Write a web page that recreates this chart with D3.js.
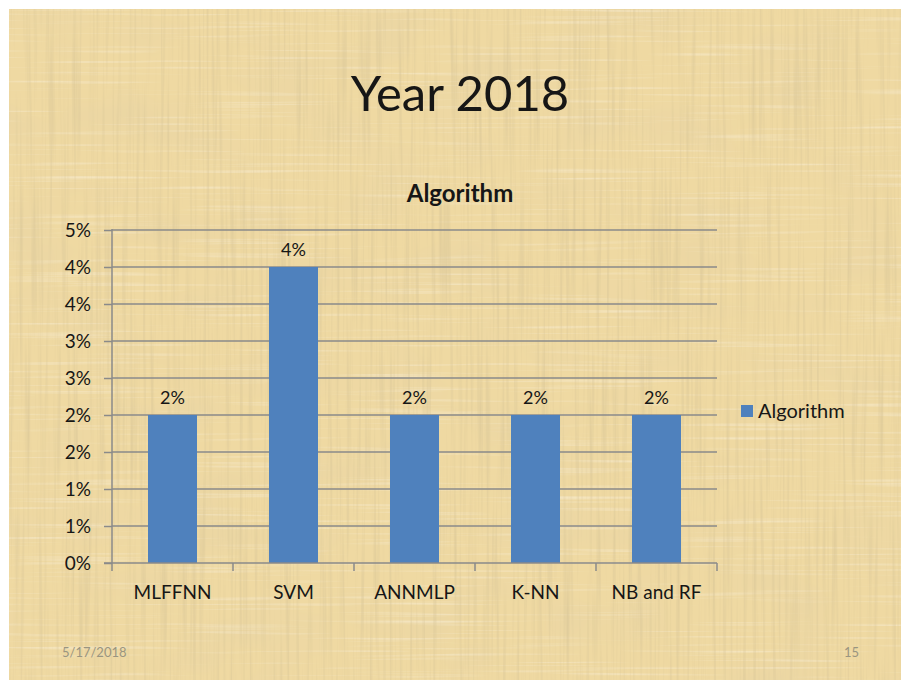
<!DOCTYPE html>
<html>
<head>
<meta charset="utf-8">
<script src="https://cdn.jsdelivr.net/npm/d3@7"></script>
<style>
  html, body { margin: 0; padding: 0; background: #ffffff; }
  svg { display: block; }
  text { font-family: Lato, "Open Sans", "DejaVu Sans", sans-serif; }
</style>
</head>
<body>
<svg id="slide" width="901" height="680"></svg>
<script>
// Chart data
const categories = ["MLFFNN", "SVM", "ANNMLP", "K-NN", "NB and RF"];
const seriesName = "Algorithm";
const seriesValues = [0.02, 0.04, 0.02, 0.02, 0.02];
const yTickValues = [0, 0.005, 0.01, 0.015, 0.02, 0.025, 0.03, 0.035, 0.04, 0.045];
const slideTitle = "Year 2018";
const chartTitle = "Algorithm";
const footerDate = "5/17/2018";
const footerPage = "15";

const svg = d3.select("#slide");
const W = 901, H = 680;

// Parchment background: woven fibres plus soft blotches
const defs = svg.append("defs");
const f = defs.append("filter").attr("id", "paper")
  .attr("x", 0).attr("y", 0).attr("width", "100%").attr("height", "100%");
// vertical fibres (darker)
f.append("feTurbulence").attr("type", "fractalNoise")
  .attr("baseFrequency", "0.3 0.006").attr("numOctaves", 2).attr("seed", 11).attr("result", "nv");
f.append("feColorMatrix").attr("in", "nv").attr("type", "matrix")
  .attr("values", "0 0 0 0 0.66  0 0 0 0 0.54  0 0 0 0 0.3  -1.3 0 0 0 0.7").attr("result", "cv");
// horizontal fibres (lighter)
f.append("feTurbulence").attr("type", "fractalNoise")
  .attr("baseFrequency", "0.006 0.3").attr("numOctaves", 2).attr("seed", 5).attr("result", "nh");
f.append("feColorMatrix").attr("in", "nh").attr("type", "matrix")
  .attr("values", "0 0 0 0 0.98  0 0 0 0 0.92  0 0 0 0 0.76  -1.2 0 0 0 0.52").attr("result", "ch");
// large soft blotches
f.append("feTurbulence").attr("type", "fractalNoise")
  .attr("baseFrequency", "0.012 0.02").attr("numOctaves", 2).attr("seed", 2).attr("result", "nb");
f.append("feColorMatrix").attr("in", "nb").attr("type", "matrix")
  .attr("values", "0 0 0 0 0.8  0 0 0 0 0.66  0 0 0 0 0.38  -1.4 0 0 0 0.72").attr("result", "cb");
f.append("feMerge").call(m => {
  m.append("feMergeNode").attr("in", "SourceGraphic");
  m.append("feMergeNode").attr("in", "cb");
  m.append("feMergeNode").attr("in", "ch");
  m.append("feMergeNode").attr("in", "cv");
});

svg.append("rect").attr("x", 9).attr("y", 9).attr("width", W - 9).attr("height", H - 9)
  .attr("fill", "#efd9a2").attr("filter", "url(#paper)");

const ink = "#161616";

// Titles
svg.append("text").attr("x", 460).attr("y", 111).attr("text-anchor", "middle")
  .attr("font-size", 49).attr("fill", ink).text(slideTitle);
svg.append("text").attr("x", 460).attr("y", 202).attr("text-anchor", "middle")
  .attr("font-size", 24).attr("font-weight", "bold").attr("fill", ink).text(chartTitle);

// Plot geometry
const plot = { left: 112, right: 717, top: 230, bottom: 563 };

const x = d3.scaleBand().domain(categories)
  .range([plot.left, plot.right]).paddingInner(0.595).paddingOuter(0.2975);
const y = d3.scaleLinear().domain([0, 0.045]).range([plot.bottom, plot.top]);
const pct = d3.format(".0%");

// Horizontal gridlines
svg.append("g").selectAll("line").data(yTickValues.slice(1)).join("line")
  .attr("x1", plot.left).attr("x2", plot.right)
  .attr("y1", d => y(d)).attr("y2", d => y(d))
  .attr("stroke", "#8a8a8a").attr("stroke-width", 1.5);

// Bars
svg.append("g").selectAll("rect").data(seriesValues).join("rect")
  .attr("x", (d, i) => x(categories[i]))
  .attr("width", x.bandwidth())
  .attr("y", d => y(d))
  .attr("height", d => y(0) - y(d))
  .attr("fill", "#4f81bd");

// Value labels
svg.append("g").selectAll("text").data(seriesValues).join("text")
  .attr("x", (d, i) => x(categories[i]) + x.bandwidth() / 2)
  .attr("y", d => y(d) - 11)
  .attr("text-anchor", "middle").attr("font-size", 18).attr("fill", ink)
  .text(d => pct(d));

// Y axis
const yAxis = svg.append("g").attr("transform", `translate(${plot.left},0)`)
  .call(d3.axisLeft(y).tickValues(yTickValues).tickFormat(pct).tickSize(8).tickPadding(13));
yAxis.select(".domain").attr("stroke", "#8a8a8a").attr("stroke-width", 1.5)
  .attr("d", `M0,${plot.bottom}V${plot.top - 1}`);
yAxis.selectAll(".tick line").attr("stroke", "#8a8a8a").attr("stroke-width", 1.5);
yAxis.selectAll(".tick text").attr("font-size", 19).attr("fill", ink)
  .attr("font-family", "Lato, 'Open Sans', sans-serif");

// X axis with tick marks at category boundaries
const xAxisG = svg.append("g").attr("transform", `translate(0,${plot.bottom})`);
xAxisG.append("line").attr("x1", plot.left - 8).attr("x2", plot.right)
  .attr("stroke", "#8a8a8a").attr("stroke-width", 1.5);
const bounds = d3.range(categories.length + 1).map(i => plot.left + i * (plot.right - plot.left) / categories.length);
xAxisG.selectAll("line.tk").data(bounds).join("line").attr("class", "tk")
  .attr("x1", d => d).attr("x2", d => d).attr("y1", 0).attr("y2", 8)
  .attr("stroke", "#8a8a8a").attr("stroke-width", 1.5);
xAxisG.selectAll("text").data(categories).join("text")
  .attr("x", d => x(d) + x.bandwidth() / 2).attr("y", 36)
  .attr("text-anchor", "middle").attr("font-size", 19).attr("fill", ink)
  .text(d => d);

// Legend
const lg = svg.append("g").attr("transform", "translate(741,405)");
lg.append("rect").attr("width", 12).attr("height", 12).attr("fill", "#4f81bd");
lg.append("text").attr("x", 17).attr("y", 13).attr("font-size", 20).attr("fill", ink).text(seriesName);

// Footer
svg.append("text").attr("x", 62).attr("y", 657).attr("font-size", 13).attr("fill", "#9a9580").text(footerDate);
svg.append("text").attr("x", 859).attr("y", 657).attr("text-anchor", "end")
  .attr("font-size", 13).attr("fill", "#9a9580").text(footerPage);
</script>
</body>
</html>
